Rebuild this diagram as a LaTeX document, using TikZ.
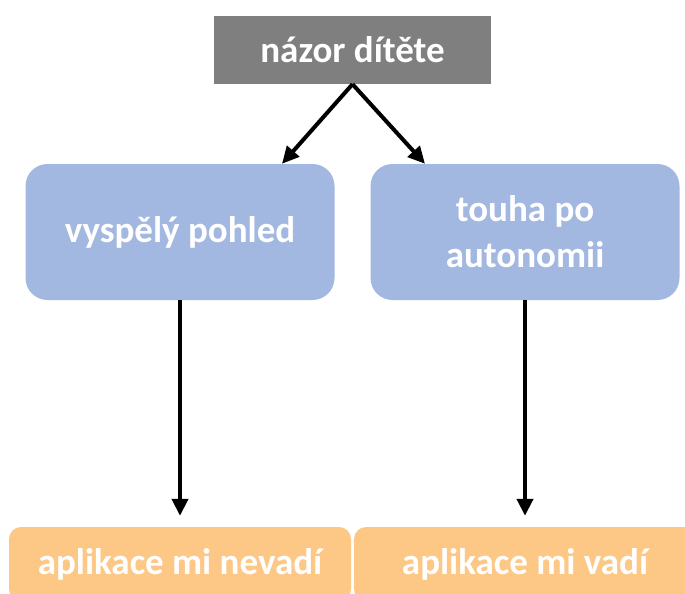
\documentclass[tikz,border=0pt]{standalone}
\usepackage{fontspec}
\setmainfont{Carlito}
\usetikzlibrary{arrows.meta}
\definecolor{nodegray}{HTML}{7F7F7F}
\definecolor{nodeblue}{HTML}{A3B8E0}
\definecolor{nodeorange}{HTML}{FDC886}
\begin{document}
\begin{tikzpicture}[x=1pt,y=1pt,
	every node/.style = {font=\fontsize{37}{46}\selectfont\bfseries,
		text=white, align=center, inner sep=0pt},
	topbox/.style = {fill=nodegray, minimum width=277pt, minimum height=68pt},
	viewbox/.style = {fill=nodeblue, rounded corners=22pt,
		minimum width=309pt, minimum height=136pt},
	resultbox/.style = {fill=nodeorange, rounded corners=12pt,
		minimum width=342pt, minimum height=74pt},
	arrowline/.style = {draw, line width=4pt,
		-{Triangle[length=17pt,width=16pt]}},
	level 1/.style = {level distance=182pt, sibling distance=345pt,
		edge from parent/.style = {arrowline}},
	level 2/.style = {level distance=332pt,
		edge from parent path = {(\tikzparentnode.south) -- (\tikzchildnode.north)},
		edge from parent/.style = {arrowline, shorten >=11pt}}]
	\useasboundingbox (0,0) rectangle (685,-594);
	\clip (0,0) rectangle (685,-594);
	\node[topbox] (nazor) at (352.5,-50) {názor dítěte}
	child[edge from parent path = {(\tikzparentnode.south) -- ([xshift=102pt]\tikzchildnode.north)}]
	{ node[viewbox] (vyspely) {vyspělý pohled}
		child { node[resultbox] (nevadi) {aplikace mi nevadí}}
	}
	child[edge from parent path = {(\tikzparentnode.south) -- ([xshift=-100pt]\tikzchildnode.north)}]
	{ node[viewbox] (touha) {touha po\\autonomii}
		child { node[resultbox] (vadi) {aplikace mi vadí}}
	}
	;
\end{tikzpicture}
\end{document}
